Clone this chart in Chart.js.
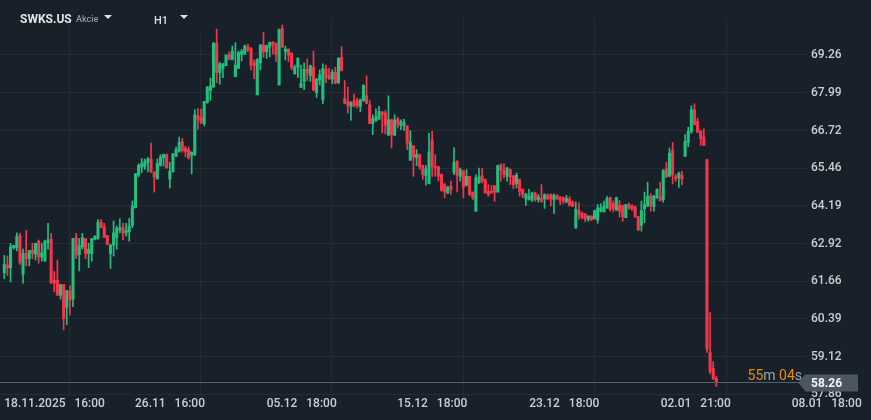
<!DOCTYPE html>
<html>
<head>
<meta charset="utf-8">
<script src="https://cdn.jsdelivr.net/npm/chart.js@4.4.1/dist/chart.umd.min.js"></script>
<style>
  html, body { margin: 0; padding: 0; background: #18212a; }
  canvas { display: block; }
</style>
</head>
<body>
<canvas id="priceChart" width="871" height="420"></canvas>
<script>
// hourly candles, SWKS.US
const opens = [
  61.94, 62.19, 62.11, 62.78, 62.78, 63.19, 61.89, 62.59, 62.41, 62.69,
  62.56, 63.00, 62.47, 62.33, 62.95, 63.06, 61.69, 61.69, 61.18, 61.54,
  60.78, 61.32, 61.05, 63.12, 62.54, 62.80, 63.09, 62.58, 62.58, 63.06,
  63.09, 63.64, 63.48, 63.19, 62.58, 62.87, 63.12, 63.37, 63.45, 63.28,
  63.31, 63.53, 64.12, 65.22, 65.49, 65.52, 65.65, 65.76, 65.33, 65.09,
  65.55, 65.80, 65.91, 65.09, 65.33, 65.85, 66.02, 66.33, 66.13, 66.08,
  65.88, 65.91, 67.22, 67.17, 66.95, 67.66, 68.07, 68.18, 69.65, 68.67,
  68.81, 68.90, 69.26, 69.11, 68.53, 68.81, 69.28, 69.29, 69.54, 69.48,
  69.00, 67.92, 69.00, 69.60, 69.37, 69.52, 69.69, 69.65, 68.25, 70.15,
  69.37, 69.46, 69.32, 68.62, 68.84, 68.17, 68.37, 68.78, 68.57, 68.85,
  68.00, 68.42, 67.75, 68.78, 68.56, 68.45, 68.68, 68.33, 69.18, 67.79,
  67.70, 67.53, 67.72, 67.72, 67.53, 67.73, 67.89, 67.59, 66.95, 67.06,
  67.10, 67.34, 67.31, 66.56, 67.08, 66.56, 67.10, 66.89, 66.89, 66.88,
  65.72, 66.21, 65.82, 65.91, 65.54, 65.20, 64.93, 66.41, 65.52, 65.50,
  65.24, 64.90, 64.62, 64.85, 65.32, 65.68, 65.18, 65.37, 64.88, 65.18,
  64.65, 64.01, 64.96, 65.20, 65.07, 64.68, 64.68, 64.87, 64.65, 65.57,
  65.37, 65.18, 65.41, 65.20, 64.94, 65.07, 64.74, 64.42, 64.40, 64.38,
  64.62, 64.40, 64.42, 64.42, 64.53, 64.57, 64.40, 64.53, 64.48, 64.46,
  64.31, 64.42, 64.31, 63.45, 64.03, 63.95, 63.92, 63.73, 63.84, 63.75,
  63.71, 64.01, 63.98, 64.12, 64.46, 64.26, 64.04, 64.20, 64.20, 63.79,
  64.23, 64.20, 64.15, 63.82, 63.53, 64.09, 64.18, 64.51, 64.16, 64.46,
  64.49, 64.40, 65.44, 65.18, 66.04, 65.16, 65.13, 65.21, 65.85, 66.32,
  66.69, 67.42, 67.03, 66.71, 66.50, 65.74, 59.26, 58.73, 58.39
];
const highs = [
  62.52, 62.50, 62.92, 62.86, 63.28, 63.26, 62.73, 63.36, 62.69, 62.93,
  62.93, 63.04, 62.93, 63.04, 63.60, 63.26, 61.98, 62.36, 61.54, 61.54,
  61.34, 61.50, 63.09, 63.26, 63.09, 63.26, 63.09, 62.93, 63.09, 63.19,
  63.73, 63.73, 63.60, 63.19, 62.89, 63.68, 63.51, 63.75, 63.60, 63.60,
  63.77, 64.35, 65.27, 65.60, 65.78, 65.76, 65.82, 66.30, 65.33, 65.76,
  65.91, 65.93, 65.93, 65.65, 65.94, 66.16, 66.50, 66.45, 66.19, 66.17,
  66.01, 67.42, 67.47, 67.44, 67.70, 68.20, 68.48, 69.69, 70.13, 69.01,
  68.98, 69.26, 69.37, 69.56, 69.67, 69.39, 69.45, 69.60, 69.63, 69.52,
  69.09, 69.14, 69.60, 70.02, 69.60, 69.69, 69.71, 69.67, 70.13, 70.27,
  69.56, 69.46, 69.34, 68.92, 69.17, 68.92, 69.00, 69.13, 68.92, 69.39,
  68.47, 68.76, 68.96, 68.92, 68.81, 68.76, 68.85, 69.17, 69.54, 68.40,
  68.18, 67.69, 67.95, 67.81, 67.78, 68.25, 68.56, 67.73, 67.25, 67.45,
  67.53, 67.36, 67.39, 67.89, 67.10, 67.25, 67.17, 67.08, 67.10, 66.88,
  66.72, 66.21, 66.08, 65.93, 65.56, 65.54, 66.63, 66.69, 65.91, 65.52,
  65.26, 64.94, 64.85, 65.02, 66.15, 65.71, 65.46, 65.37, 65.41, 65.18,
  64.65, 65.23, 65.46, 65.44, 65.09, 64.90, 64.87, 64.87, 65.56, 65.60,
  65.60, 65.48, 65.43, 65.20, 65.29, 65.09, 64.76, 64.59, 64.74, 64.65,
  64.65, 64.57, 64.90, 64.59, 64.59, 64.59, 64.59, 64.57, 64.50, 64.49,
  64.54, 64.50, 64.35, 64.32, 64.29, 63.98, 63.93, 63.86, 63.86, 64.04,
  64.23, 64.26, 64.35, 64.51, 64.48, 64.35, 64.48, 64.37, 64.22, 64.24,
  64.29, 64.22, 64.18, 63.84, 64.35, 64.65, 64.98, 64.60, 64.54, 64.76,
  64.99, 65.41, 65.65, 66.13, 66.32, 65.24, 65.32, 65.35, 66.58, 66.83,
  67.55, 67.62, 67.14, 66.72, 66.78, 65.74, 60.60, 58.95, 58.46
];
const lows = [
  61.74, 61.85, 61.63, 62.73, 62.67, 62.22, 61.59, 62.17, 62.17, 62.41,
  62.37, 62.26, 62.33, 62.33, 62.73, 61.59, 61.30, 61.18, 61.05, 60.02,
  60.19, 60.51, 60.80, 62.41, 62.00, 62.73, 62.41, 62.11, 62.33, 63.04,
  63.06, 63.45, 63.12, 62.89, 62.08, 62.50, 62.73, 63.28, 63.04, 63.17,
  63.00, 63.45, 64.12, 65.16, 65.30, 65.41, 65.33, 65.30, 64.65, 65.09,
  65.52, 65.52, 65.46, 64.79, 65.33, 65.85, 65.99, 65.99, 65.83, 65.76,
  65.26, 65.88, 66.77, 66.95, 66.88, 67.64, 67.73, 68.18, 68.33, 68.28,
  68.50, 68.90, 69.11, 69.09, 68.53, 68.81, 69.06, 69.29, 69.37, 68.76,
  68.46, 67.92, 68.76, 69.18, 69.15, 69.20, 69.29, 69.04, 68.25, 69.52,
  69.09, 69.04, 68.76, 68.62, 68.50, 68.17, 68.09, 68.40, 68.37, 68.07,
  67.83, 68.25, 67.62, 68.33, 68.44, 68.29, 68.29, 68.29, 68.73, 67.62,
  67.31, 67.06, 67.51, 67.47, 67.36, 67.70, 67.62, 66.95, 66.58, 67.03,
  67.10, 66.63, 66.61, 66.56, 66.13, 66.56, 66.80, 66.75, 66.72, 66.08,
  65.72, 65.18, 65.54, 65.41, 65.08, 64.88, 64.93, 65.18, 65.18, 65.02,
  64.68, 64.46, 64.60, 64.57, 65.24, 64.66, 65.02, 64.46, 64.85, 64.53,
  64.40, 64.01, 64.94, 64.96, 64.62, 64.51, 64.62, 64.34, 64.65, 65.02,
  65.13, 65.02, 64.90, 64.76, 64.79, 64.51, 64.46, 64.20, 64.38, 64.34,
  64.34, 64.31, 64.31, 64.10, 64.40, 64.18, 63.93, 64.40, 64.23, 64.27,
  64.29, 64.18, 64.16, 63.43, 63.73, 63.75, 63.65, 63.67, 63.70, 63.75,
  63.60, 63.98, 63.98, 64.10, 64.01, 63.98, 64.04, 63.81, 63.67, 63.79,
  64.07, 64.03, 63.81, 63.37, 63.34, 63.62, 64.16, 64.01, 64.01, 64.44,
  64.35, 64.31, 65.13, 65.18, 64.93, 65.01, 64.81, 64.90, 65.85, 66.17,
  66.63, 66.91, 66.66, 66.22, 66.22, 59.26, 58.54, 58.35, 58.11
];
const closes = [
  62.22, 62.11, 62.80, 62.86, 63.15, 62.30, 62.59, 62.41, 62.69, 62.58,
  62.93, 62.47, 62.61, 63.00, 63.04, 61.59, 61.59, 61.18, 61.54, 60.40,
  61.34, 61.03, 63.09, 62.54, 62.85, 63.12, 62.58, 62.73, 63.09, 63.16,
  63.64, 63.45, 63.12, 62.89, 62.87, 63.28, 63.43, 63.45, 63.28, 63.36,
  63.51, 64.18, 65.27, 65.55, 65.61, 65.69, 65.76, 65.35, 65.16, 65.61,
  65.83, 65.91, 65.46, 65.35, 65.94, 66.08, 66.33, 66.05, 66.02, 65.80,
  65.99, 67.25, 67.10, 67.00, 67.70, 68.18, 68.22, 69.65, 68.67, 68.96,
  68.96, 69.26, 69.11, 69.39, 68.92, 69.34, 69.39, 69.56, 69.43, 68.92,
  68.90, 69.11, 69.60, 69.37, 69.57, 69.69, 69.60, 69.28, 70.12, 69.52,
  69.46, 69.26, 68.84, 68.85, 69.15, 68.31, 68.78, 68.65, 68.90, 68.07,
  68.45, 68.59, 68.81, 68.51, 68.46, 68.68, 68.31, 69.15, 68.73, 67.64,
  67.56, 67.66, 67.56, 67.56, 67.75, 68.25, 67.64, 66.95, 67.12, 67.19,
  67.36, 67.25, 66.89, 67.08, 66.58, 67.08, 66.91, 67.03, 66.99, 66.30,
  66.33, 65.82, 65.91, 65.50, 65.24, 65.43, 66.00, 65.50, 65.46, 65.18,
  64.71, 64.66, 64.81, 64.74, 65.65, 65.22, 65.41, 64.81, 65.18, 64.57,
  64.46, 65.13, 65.16, 65.02, 64.62, 64.57, 64.62, 64.65, 65.54, 65.38,
  65.24, 65.46, 65.16, 64.90, 65.22, 64.68, 64.57, 64.59, 64.51, 64.62,
  64.40, 64.49, 64.34, 64.57, 64.42, 64.42, 64.53, 64.42, 64.38, 64.35,
  64.44, 64.20, 64.18, 64.07, 63.88, 63.79, 63.75, 63.84, 63.71, 64.03,
  64.12, 64.12, 64.18, 64.44, 64.07, 64.10, 64.46, 64.01, 63.82, 64.23,
  64.12, 64.07, 63.81, 63.37, 64.03, 64.23, 64.51, 64.18, 64.51, 64.74,
  64.37, 65.37, 65.16, 65.96, 65.22, 65.09, 65.29, 65.09, 66.36, 66.69,
  67.42, 66.91, 66.66, 66.45, 66.22, 59.37, 58.62, 58.37, 58.26
];

const priceTicks = [ 69.26, 67.99, 66.72, 65.46, 64.19, 62.92, 61.66, 60.39, 59.12, 57.86 ];
const timeTickIndex = [ 0, 41.85, 84.02, 125.84, 168.11, 210.18, 252.13 ];
const timeTickLabels = [ '18.11.2025   16:00', '26.11   16:00', '05.12   18:00', '15.12   18:00', '23.12   18:00', '02.01   21:00', '08.01   18:00' ];

const upColor = '#22c07e';
const downColor = '#f7364b';
const bgColor = '#18212a';
const gridColor = '#232d36';
const textColor = '#c9ced3';

function candleColors() {
    return closes.map( function( c, i ) {
        return c >= opens[ i ] ? upColor : downColor;
    } );
}

function wickData() {
    return lows.map( function( l, i ) {
        return { x: i, y: [ l, highs[ i ] ] };
    } );
}

function bodyData() {
    return opens.map( function( o, i ) {
        return { x: i, y: [ o, closes[ i ] ] };
    } );
}

// header, countdown and last price tag
const overlayPlugin = {
    id: 'overlay',
    beforeDraw( chart ) {
        const ctx = chart.ctx;
        ctx.save();
        ctx.fillStyle = bgColor;
        ctx.fillRect( 0, 0, chart.width, chart.height );
        ctx.restore();
    },
    afterDraw( chart ) {
        const ctx = chart.ctx;
        const yScale = chart.scales.y;
        const last = closes[ closes.length - 1 ];
        const py = Math.round( yScale.getPixelForValue( last ) ) + 0.5;

        ctx.save();

        // hide grid under timeframe selector
        ctx.fillStyle = bgColor;
        ctx.fillRect( 128, 0, 80, 32 );

        ctx.textBaseline = 'alphabetic';
        ctx.fillStyle = '#e1e4e7';
        ctx.font = 'bold 12px Roboto';
        ctx.fillText( 'SWKS.US', 20, 23 );
        ctx.fillStyle = '#8d98a1';
        ctx.font = '500 9px Roboto';
        ctx.fillText( 'Akcie', 76, 22 );
        ctx.fillStyle = '#d8dce0';
        ctx.font = '500 11px Roboto';
        ctx.fillText( 'H1', 154, 24 );

        ctx.fillStyle = '#dfe3e6';
        [ 104, 180 ].forEach( function( tx ) {
            ctx.beginPath();
            ctx.moveTo( tx, 15 );
            ctx.lineTo( tx + 8, 15 );
            ctx.lineTo( tx + 4, 19 );
            ctx.closePath();
            ctx.fill();
        } );

        // last price line
        ctx.strokeStyle = '#55616b';
        ctx.lineWidth = 1;
        ctx.beginPath();
        ctx.moveTo( 0, py );
        ctx.lineTo( 800, py );
        ctx.stroke();

        // price tag
        ctx.fillStyle = '#4a5762';
        ctx.beginPath();
        ctx.moveTo( 798, py );
        ctx.lineTo( 805, py - 8 );
        ctx.lineTo( 858, py - 8 );
        ctx.lineTo( 858, py + 9 );
        ctx.lineTo( 805, py + 9 );
        ctx.lineTo( 805, py + 8 );
        ctx.closePath();
        ctx.fill();
        ctx.fillStyle = '#f2f4f6';
        ctx.font = 'bold 12px Roboto';
        ctx.textBaseline = 'middle';
        ctx.fillText( last.toFixed( 2 ), 811, py + 1 );

        // countdown
        const parts = [ [ '55', '#e98b10' ], [ 'm ', '#9ba4ac' ], [ '04', '#e98b10' ], [ 's', '#9ba4ac' ] ];
        ctx.font = '14px Roboto';
        ctx.textBaseline = 'alphabetic';
        let total = 0;
        parts.forEach( function( p ) { total += ctx.measureText( p[ 0 ] ).width; } );
        let tx = 802 - total;
        parts.forEach( function( p ) {
            ctx.fillStyle = p[ 1 ];
            ctx.fillText( p[ 0 ], tx, py - 3 );
            tx += ctx.measureText( p[ 0 ] ).width;
        } );

        ctx.restore();
    }
};

function drawChart() {

    const colors = candleColors();
    const ctx = document.getElementById( 'priceChart' ).getContext( '2d' );

    new Chart( ctx, {
        type: 'bar',
        data: {
            datasets: [
                {
                    data: wickData(),
                    backgroundColor: colors,
                    barThickness: 1,
                    grouped: false,
                    minBarLength: 1,
                },
                {
                    data: bodyData(),
                    backgroundColor: colors,
                    barThickness: 2.4,
                    grouped: false,
                    minBarLength: 1,
                },
            ],
        },
        options: {
            responsive: false,
            animation: false,
            layout: { padding: { top: 18, left: 0, right: 0, bottom: 0 } },
            plugins: {
                legend: { display: false },
                tooltip: { enabled: false },
            },
            scales: {
                x: {
                    type: 'linear',
                    min: -1.377,
                    max: 257.03,
                    offset: false,
                    border: { display: false },
                    grid: { color: gridColor, drawTicks: false },
                    afterBuildTicks: function( s ) {
                        s.ticks = timeTickIndex.map( function( v ) { return { value: v }; } );
                    },
                    afterFit: function( s ) { s.height = 24; },
                    ticks: {
                        align: 'start',
                        padding: 1,
                        autoSkip: false,
                        maxRotation: 0,
                        color: textColor,
                        font: { family: 'Roboto', size: 12, weight: '500' },
                        callback: function( v, i ) { return timeTickLabels[ i ]; },
                    },
                },
                y: {
                    type: 'linear',
                    position: 'right',
                    min: 57.794,
                    max: 70.504,
                    border: { display: false },
                    grid: { color: gridColor, drawTicks: false },
                    afterBuildTicks: function( s ) {
                        s.ticks = priceTicks.map( function( v ) { return { value: v }; } );
                    },
                    afterFit: function( s ) { s.width = 64; },
                    ticks: {
                        padding: 4,
                        color: textColor,
                        font: { family: 'Roboto', size: 12, weight: '500' },
                        callback: function( v ) { return v.toFixed( 2 ); },
                    },
                },
            },
        },
        plugins: [ overlayPlugin ],
    } );

}

drawChart();
</script>
</body>
</html>
